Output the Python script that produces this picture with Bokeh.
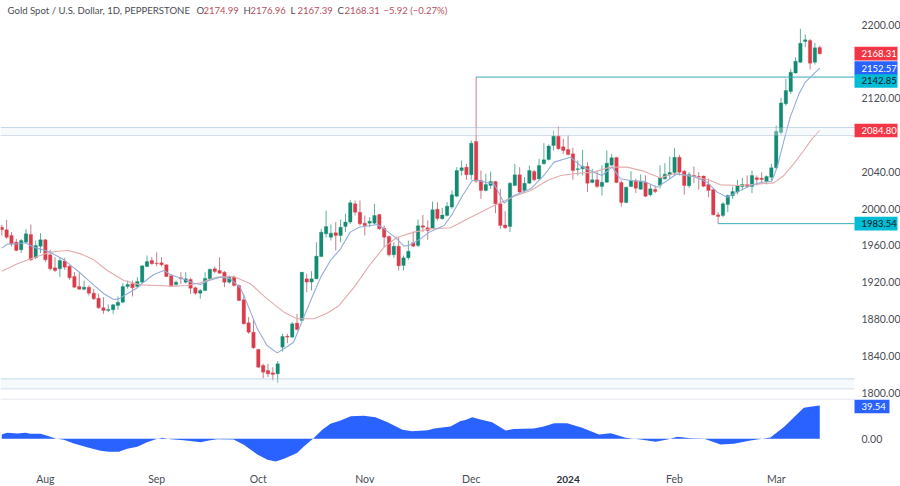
from bokeh.embed import file_html
from bokeh.layouts import column
from bokeh.models import BoxAnnotation, FixedTicker, Label, LinearAxis, Range1d
from bokeh.plotting import figure
from bokeh.resources import INLINE

opens = [
 1979.7,1976.8,1970.7,1963.4,1955.1,1963.4,1971.7,1946.4,1959.1,1965.9,
 1949.6,1935.5,1934.4,1942.8,1937.3,1926.1,1915.2,1912.3,1914.5,1908.0,
 1902.5,1892.0,1889.1,1889.9,1894.6,1898.2,1915.2,1918.1,1915.2,1919.9,
 1937.0,1943.5,1940.6,1940.9,1938.8,1926.8,1917.4,1924.6,1919.9,1922.8,
 1913.8,1908.0,1910.9,1923.6,1934.4,1932.6,1930.8,1919.9,1925.4,1916.3,
 1900.7,1875.7,1865.6,1846.8,1829.4,1823.9,1821.4,1820.3,1849.3,1861.2,
 1860.2,1875.4,
 1878.3,1923.6,1920.0,1923.6,1947.8,1972.5,1968.8,1973.6,1970.7,1980.4,
 1985.2,2005.1,1996.0,1984.1,1984.1,1984.1,1993.5,1978.6,1969.6,1949.6,
 1959.1,1938.1,1946.4,1962.7,1959.8,1981.2,1979.0,1978.6,1999.3,1988.8,
 1992.4,2001.5,2013.4,2041.3,2044.9,2036.6,2072.8,2030.4,2019.6,2025.0,
 2029.4,2005.1,1982.2,1980.4,2025.0,2036.6,2019.6,2027.5,2040.2,2032.2,
 2048.6,2053.2,2068.5,2078.6,2067.0,2064.1,2059.4,2042.4,
 2043.1,2045.7,2028.3,2031.2,2023.9,2028.6,2047.1,2055.4,2028.3,2006.5,
 2023.9,2029.7,2021.0,2028.6,2014.9,2020.7,2025.4,2032.3,2037.0,2039.1,
 2055.8,2040.6,2024.7,2035.9,2034.8,2035.2,2026.1,2020.7,1993.1,1992.4,
 2004.4,2013.8,2017.8,2023.9,2026.1,2023.9,2033.3,2033.0,2029.3,2034.0,
 2044.2,2082.6,2113.8,2127.2,2147.4,2159.0,2181.5,2182.6,2159.0,2174.99]
closes = [
 1976.8,1968.8,1961.6,1954.4,1965.2,1972.5,1944.2,1959.8,1965.9,1944.2,
 1934.4,1932.6,1943.5,1936.2,1924.6,1914.5,1912.3,1914.5,1908.0,1901.8,
 1892.0,1889.1,1890.2,1895.3,1898.2,1915.2,1917.4,1913.8,1920.7,1937.7,
 1942.4,1939.9,1939.9,1938.8,1926.1,1915.6,1919.9,1923.6,1923.6,1913.4,
 1908.0,1910.9,1923.9,1934.1,1931.5,1929.7,1919.9,1925.4,1916.3,1900.0,
 1874.6,1865.6,1848.6,1827.5,1822.1,1820.3,1819.6,1831.2,1860.9,1860.2,
 1874.7,1868.5,
 1930.8,1920.0,1923.6,1948.2,1974.3,1980.4,1973.2,1970.7,1979.7,1985.2,
 2006.2,1996.0,1983.3,1981.5,1986.2,1992.4,1977.9,1968.8,1949.6,1959.1,
 1937.7,1946.4,1953.6,1959.1,1981.2,1979.7,1976.1,1998.6,1989.1,1992.8,
 2002.5,2014.9,2041.3,2044.2,2036.6,2071.0,2029.7,2019.6,2026.1,2029.4,
 2005.1,1981.5,1979.0,2027.5,2036.6,2017.8,2027.5,2041.3,2031.2,2046.7,
 2052.9,2067.8,2078.6,2064.9,2063.0,2058.7,2041.3,2043.1,
 2046.0,2027.5,2031.2,2023.9,2028.6,2049.3,2055.1,2028.3,2006.5,2023.2,
 2030.1,2022.1,2029.4,2013.4,2021.4,2018.5,2033.3,2037.3,2039.1,2055.8,
 2039.5,2025.0,2037.0,2034.8,2034.1,2024.3,2019.6,1993.1,1991.3,2005.1,
 2014.1,2018.5,2024.7,2026.1,2023.9,2035.9,2031.5,2031.5,2034.8,2044.2,
 2084.0,2114.8,2128.2,2148.2,2160.1,2179.7,2183.3,2158.0,2174.6,2168.31]
highs = [
 1982.3,1987.7,1974.3,1967.0,1967.0,1977.9,1982.6,1965.2,1973.2,1967.0,
 1955.1,1947.1,1947.1,1946.4,1938.1,1930.8,1929.7,1921.7,1916.3,1912.7,
 1907.3,1903.6,1895.7,1896.4,1904.4,1918.8,1921.7,1921.7,1925.4,1938.1,
 1948.9,1947.1,1952.5,1947.1,1939.1,1928.3,1921.7,1930.8,1930.8,1924.6,
 1915.2,1912.7,1930.8,1934.4,1937.0,1947.1,1931.9,1927.2,1927.2,1917.4,
 1907.3,1881.9,1880.1,1847.5,1831.2,1831.2,1827.5,1834.1,1863.8,1863.8,
 1876.5,1885.5,
 1930.8,1929.0,1931.9,1963.4,1977.9,1997.8,1982.6,1985.2,1988.0,1994.2,
 2009.4,2008.7,2008.7,1992.4,1990.6,2005.1,1994.2,1981.5,1970.7,1963.4,
 1968.8,1948.9,1965.2,1975.0,1988.0,1993.1,1987.0,2007.6,2006.9,2000.7,
 2006.9,2019.6,2044.9,2052.2,2048.6,2073.9,2143.0,2041.3,2037.7,2040.2,
 2029.7,2021.4,1997.1,2028.6,2048.6,2044.9,2034.0,2046.7,2042.0,2054.0,
 2071.0,2069.5,2084.8,2089.1,2075.7,2079.4,2066.0,2052.2,
 2063.8,2050.4,2043.1,2041.3,2046.8,2063.1,2059.4,2055.8,2030.4,2023.9,
 2040.6,2032.3,2037.0,2035.9,2026.8,2025.0,2046.8,2049.3,2056.5,2066.0,
 2058.3,2042.0,2039.5,2045.7,2039.5,2035.9,2032.3,2021.4,1996.0,2006.9,
 2015.2,2023.9,2031.2,2033.3,2035.9,2041.3,2035.9,2039.5,2035.9,2048.5,
 2090.2,2120.3,2140.9,2151.8,2164.5,2195.3,2189.1,2184.4,2180.1,2176.96]
lows = [
 1970.7,1967.0,1958.7,1953.6,1951.5,1961.6,1942.8,1945.3,1951.5,1941.7,
 1932.6,1930.8,1925.4,1933.3,1922.5,1913.8,1911.6,1910.9,1905.4,1900.7,
 1891.0,1885.5,1887.3,1885.5,1889.9,1897.1,1912.7,1904.4,1913.8,1918.8,
 1936.2,1939.1,1937.3,1937.0,1925.4,1915.2,1915.2,1918.1,1918.8,1907.3,
 1906.2,1901.8,1910.2,1922.5,1929.7,1929.0,1914.5,1918.1,1915.2,1899.3,
 1873.9,1863.8,1847.5,1826.8,1815.6,1816.7,1813.1,1810.2,1844.6,1853.7,
 1859.4,1867.4,
 1877.6,1909.1,1910.9,1923.2,1947.1,1968.8,1965.2,1954.4,1963.4,1974.3,
 1983.3,1992.4,1981.5,1970.7,1979.7,1982.6,1976.8,1958.0,1947.8,1946.4,
 1932.6,1932.6,1944.2,1958.0,1958.0,1974.3,1966.0,1977.9,1987.0,1988.0,
 1991.3,1999.6,2012.3,2035.9,2031.2,2031.2,2028.0,2010.5,2018.5,2021.4,
 1994.9,1977.9,1977.9,1974.3,2024.3,2016.7,2016.7,2026.8,2029.7,2031.2,
 2047.8,2052.2,2063.0,2063.8,2059.4,2057.6,2031.2,2035.9,
 2035.9,2017.8,2027.5,2022.5,2014.1,2028.0,2046.8,2027.5,2002.2,2005.8,
 2023.2,2016.7,2020.3,2012.3,2013.1,2016.7,2021.4,2031.2,2032.3,2035.9,
 2035.9,2015.2,2022.5,2027.5,2020.3,2023.2,2012.3,1992.4,1983.54,1990.6,
 1996.0,2010.5,2015.2,2019.6,2022.5,2016.7,2025.0,2027.9,2026.1,2030.4,
 2043.1,2080.4,2111.9,2124.6,2146.4,2158.0,2175.3,2151.1,2156.5,2167.39]

fast_ma_bars = [0,1.1,3.2,4.9,6.6,9,10,12.8,15.6,18.3,21.1,23.1,24.2,25.9,28,29.3,31.4,33.5,34.8,37.3,39.7,41,
 42.8,45.2,47.2,49.3,51,52.8,54.8,56.9,58.3,60.3,62.1,64.1,65.9,67.9,70,72,73.8,77.6,79,81.4,83.1,84.1,86.5,88.3,
 91.4,93.1,95.2,97.2,98.3,101.7,103.8,105.8,109.3,112,114.1,117.5,119.5,122.3,124,126.1,127.8,129.9,132.6,135.4,
 137.5,139.5,143,145.7,147.8,149.9,151.9,154.7,157.1,159.1,160.2,161.6,162.9,164.7,166,167.4,169]
fast_ma_vals = [1956.9,1961.2,1961.6,1962.7,1958.0,1954.4,1952.5,1944.2,1932.6,1919.9,1907.3,1901.1,1901.8,1907.3,
 1913.8,1919.9,1928.3,1932.6,1928.3,1923.6,1918.8,1917.4,1921.7,1925.4,1923.6,1913.8,1892.8,1869.2,1851.1,1843.1,
 1847.5,1854.7,1878.3,1903.6,1925.4,1943.5,1956.2,1974.3,1979.7,1982.6,1977.9,1968.1,1959.1,1959.8,1967.0,1974.3,
 1981.5,1994.2,2014.1,2030.4,2030.4,2026.8,2005.8,2014.1,2021.4,2035.9,2050.4,2055.8,2046.8,2039.5,2035.9,2045.0,
 2032.3,2030.4,2029.7,2023.2,2030.4,2037.7,2034.8,2028.6,2017.8,2012.3,2017.8,2025.0,2028.6,2029.7,2044.9,2073.9,
 2099.3,2124.6,2137.3,2144.5,2152.57]
slow_ma_bars = [0,3.2,6.6,9.4,11.4,13.8,16.3,19,21.8,25.2,28.7,32.1,35.5,38.3,41,44.5,47.9,51.4,54.8,58.3,61,64.5,
 67.2,69.7,72.8,76.2,79,81.7,85.2,88.6,92.7,96.9,101.7,105.8,109.3,112.7,115.5,118.2,122.3,125.7,129.2,132.6,136,
 138.8,143,146.4,148.5,152.6,156.7,159.5,161.6,163.6,165.7,167.4,169]
slow_ma_vals = [1931.9,1939.9,1946.4,1951.5,1953.6,1954.4,1950.7,1944.2,1932.6,1921.7,1917.0,1916.3,1915.6,1916.3,
 1919.2,1925.4,1926.1,1918.1,1901.8,1887.3,1880.1,1880.1,1886.2,1894.6,1914.5,1939.9,1958.0,1968.8,1974.3,1977.9,
 1979.0,1990.6,2003.3,2013.0,2019.6,2030.4,2035.9,2037.7,2039.5,2045.0,2045.0,2040.6,2033.3,2037.7,2034.8,2030.4,
 2025.7,2025.0,2026.8,2027.9,2035.9,2048.5,2063.0,2075.7,2084.8]
osc_bars = [0,1.1,3.2,4.9,5.9,8,9.4,11.1,12.8,14.9,17.6,20.4,22.1,24.2,25.9,28,30,31.8,33.2,34.9,37.6,41.1,42.8,44.5,
 47.9,50,52.8,54.9,56.6,58.3,61,62.4,64.3,66.2,67.9,70,72.1,74.8,77.2,79.7,82.8,84.8,88,89.3,92.7,94.8,95.8,97.2,
 98.9,101.3,104.1,105.8,109.9,112,114.1,116.8,119.9,123.4,125.8,128.9,132,135.1,137.5,139.6,142.3,145,148.5,151.3,
 154.7,158.8,161.6,165.7,167.4,169]
osc_vals = [5.1,7.1,6.3,7.1,5.9,5.9,3.6,0.4,-1.2,-5.5,-9.9,-14.3,-15.4,-15.4,-11.9,-9.5,-4.0,-0.4,1.2,-0.4,-1.6,-4.0,
 -2.0,-0.4,-0.8,-7.1,-18.6,-24.9,-26.9,-23.8,-17.0,-9.1,0.0,10.7,17.8,21.8,26.9,27.3,25.7,19.8,10.7,9.1,10.3,12.3,
 14.7,21.0,22.2,25.7,23.0,19.8,9.9,11.5,12.3,14.7,18.6,18.6,13.1,5.1,6.7,1.2,-0.8,-3.6,-0.8,2.4,0.8,0.4,-6.7,-5.9,
 -2.0,1.6,13.9,36.8,38.4,39.54]

band_tops = [2088.0, 1814.7]
band_bottoms = [2079.3, 1804.0]
level_prices = [2142.85, 1983.54]
level_start_bars = [98, 148]
price_ticks = [2200, 2120, 2040, 2000, 1960, 1920, 1880, 1840, 1800]
month_bars = [9, 32, 53, 75, 97, 139, 160]
month_labels = ["Aug", "Sep", "Oct", "Nov", "Dec", "Feb", "Mar"]
year_bar = 117
year_label = "2024"
badge_texts = ["2168.31", "2152.57", "2142.85", "2084.80", "1983.54"]
badge_prices = [2168.31, 2152.57, 2138.6, 2084.80, 1983.54]
badge_fills = ["#f23645", "#2962ff", "#00bcd4", "#f23645", "#00bcd4"]
badge_inks = ["#ffffff", "#ffffff", "#131722", "#ffffff", "#131722"]

FONT = "Lato"
UP, DOWN = "#148a72", "#d93d4c"
UP_WICK, DOWN_WICK = "#5db09e", "#c47f88"
INK = "#4a4d55"

BAR_PX = 4.84
def bar_at(px):
    return (px - 1.3) / BAR_PX
AXIS_X = bar_at(854)

n = len(opens)
bars = list(range(n))
x_range = Range1d(bar_at(0), bar_at(900))
PX_PER_PRICE = 0.92
OSC_PX_PER_UNIT = 0.842
def price_at(py):
    return 2200 - (py - 24) / PX_PER_PRICE

p = figure(frame_width=900, frame_height=398, x_range=x_range,
           y_range=Range1d(price_at(398), price_at(0)), output_backend="svg",
           toolbar_location=None, x_axis_location=None, y_axis_location=None,
           min_border_left=0, min_border_right=0, min_border_top=0, min_border_bottom=0,
           outline_line_color=None, background_fill_color="#ffffff")
p.grid.visible = False

def style_axis(axis, standoff, size):
    axis.axis_line_color = None
    axis.major_tick_line_color = None
    axis.minor_tick_line_color = None
    axis.major_tick_out = 0
    axis.major_tick_in = 0
    axis.major_label_standoff = standoff
    axis.major_label_text_font = FONT
    axis.major_label_text_font_size = size
    axis.major_label_text_color = INK

ax = LinearAxis(fixed_location=AXIS_X, ticker=FixedTicker(ticks=price_ticks),
                major_label_overrides={t: f"{t}.00" for t in price_ticks})
style_axis(ax, 7, "10.5px")
p.add_layout(ax, "right")

for top, bottom in zip(band_tops, band_bottoms):
    p.add_layout(BoxAnnotation(top=top, bottom=bottom, right=AXIS_X, fill_color="#e8f0f7", fill_alpha=0.35, line_color=None))
    p.line([bar_at(0), AXIS_X], [top, top], line_color="#bcd2e2", line_width=1)
    p.line([bar_at(0), AXIS_X], [bottom, bottom], line_color="#cfd9e6", line_width=1)

wick_up = [i for i in bars if closes[i] >= opens[i]]
wick_dn = [i for i in bars if closes[i] < opens[i]]
for ids, wick, body in ((wick_up, UP_WICK, UP), (wick_dn, DOWN_WICK, DOWN)):
    p.segment([bars[i] for i in ids], [highs[i] for i in ids], [bars[i] for i in ids], [lows[i] for i in ids],
              line_color=wick, line_width=1)
    p.vbar([bars[i] for i in ids], top=[max(opens[i], closes[i]) for i in ids],
           bottom=[min(opens[i], closes[i]) for i in ids], width=0.72, fill_color=body, line_color=body, line_width=0.3)

for price, start in zip(level_prices, level_start_bars):
    p.line([start, AXIS_X], [price, price], line_color="#3aa9bb", line_width=1)

p.line(slow_ma_bars, slow_ma_vals, line_color="#e2abab", line_width=1.1)
p.line(fast_ma_bars, fast_ma_vals, line_color="#94add9", line_width=1.1)

def add_badge(fig, text, y, fill, ink, right_px, scale):
    half = 6.8 / scale
    fig.quad(left=[AXIS_X], right=[bar_at(right_px)], top=[y + half], bottom=[y - half],
             fill_color=fill, line_color=None)
    fig.add_layout(Label(x=bar_at(861), y=y, text=text, text_font=FONT, text_font_size="9.5px",
                         text_color=ink, text_baseline="middle", text_align="left"))

for text, y, fill, ink in zip(badge_texts, badge_prices, badge_fills, badge_inks):
    add_badge(p, text, y, fill, ink, 897, PX_PER_PRICE)

HEAD_Y = price_at(9.5)
head_parts = [
    (7, "Gold Spot / U.S. Dollar, 1D, PEPPERSTONE", INK, "9.6px"),
    (196, "O", INK, "9.6px"), (203, "2174.99", "#b8505e", "9.5px"),
    (243, "H", INK, "9.6px"), (250, "2176.96", "#b8505e", "9.5px"),
    (290, "L", INK, "9.6px"), (297, "2167.39", "#b8505e", "9.5px"),
    (337, "C", INK, "9.6px"), (344, "2168.31", "#b8505e", "9.5px"),
    (383, "\u22125.92 (\u22120.27%)", "#b8505e", "9.5px"),
]
for px, text, colour, size in head_parts:
    p.add_layout(Label(x=bar_at(px), y=HEAD_Y, text=text, text_font=FONT, text_font_size=size,
                       text_color=colour, text_baseline="middle", text_align="left"))

def osc_at(py):
    return (438.3 - py) / OSC_PX_PER_UNIT

q = figure(frame_width=900, frame_height=88, x_range=x_range,
           y_range=Range1d(osc_at(486), osc_at(398)), output_backend="svg",
           toolbar_location=None, x_axis_location=None, y_axis_location=None,
           min_border_left=0, min_border_right=0, min_border_top=0, min_border_bottom=0,
           outline_line_color=None, background_fill_color="#ffffff")
q.grid.visible = False
q.varea(x=osc_bars, y1=[0] * len(osc_bars), y2=osc_vals, fill_color="#2962ff")
q.line([bar_at(0), AXIS_X], [osc_at(398.6), osc_at(398.6)], line_color="#e0e3eb", line_width=1)

qy = LinearAxis(fixed_location=AXIS_X, ticker=FixedTicker(ticks=[0]), major_label_overrides={0: "0.00"})
style_axis(qy, 7, "10.5px")
q.add_layout(qy, "right")

qx = LinearAxis(fixed_location=osc_at(472.5), ticker=FixedTicker(ticks=month_bars),
                major_label_overrides=dict(zip(month_bars, month_labels)))
style_axis(qx, 0, "10.5px")
q.add_layout(qx, "below")

q.add_layout(Label(x=year_bar, y=osc_at(478.7), text=year_label,
                   text_font=FONT, text_font_size="10px", text_font_style="bold", text_color="#2a2e39",
                   text_align="center", text_baseline="middle"))
add_badge(q, "39.54", osc_at(406), "#2962ff", "#ffffff", 889, OSC_PX_PER_UNIT)

page = column(p, q, spacing=0)
open("out.html", "w").write(file_html(page, INLINE))
